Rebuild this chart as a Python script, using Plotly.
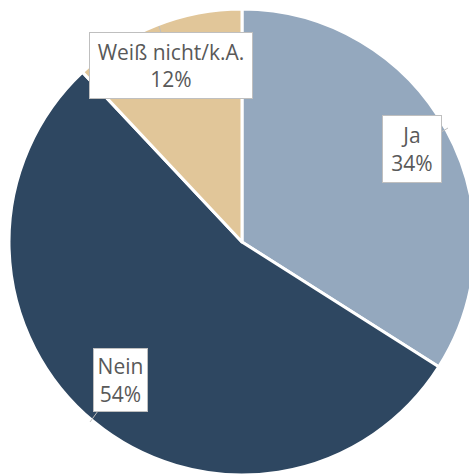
import plotly.graph_objects as go

labels = ["Ja", "Nein", "Weiß nicht/k.A."]
values = [34, 54, 12]
colors = ["#94A8BE", "#2E4761", "#E1C699"]

W, H = 480, 480

fig = go.Figure(go.Pie(
    labels=labels, values=values, sort=False, direction="clockwise", rotation=0,
    marker=dict(colors=colors, line=dict(color="white", width=3)),
    textinfo="none", hoverinfo="label+percent", showlegend=False,
    domain=dict(x=[9 / W, 475 / W], y=[1 - 475 / H, 1 - 9 / H]),
))

# label boxes: (center px x, center px y, tip px x, tip px y, width, height)
boxes = [
    (412, 149, 448, 128, 60, 68),
    (120.5, 380, 90, 422, 55, 64),
    (171, 65.5, 159, 26, 164, 67),
]
total = sum(values)
for lab, val, (cx, cy, tx, ty, bw, bh) in zip(labels, values, boxes):
    fig.add_annotation(
        x=tx / W, y=1 - ty / H, xref="paper", yref="paper",
        ax=cx - tx, ay=cy - ty, axref="pixel", ayref="pixel",
        text=f"{lab}<br>{round(100 * val / total)}%",
        showarrow=True, arrowhead=0, arrowwidth=1, arrowcolor="#BFBFBF",
        bgcolor="white", bordercolor="#BFBFBF", borderwidth=1, borderpad=0,
        width=bw - 2, height=bh - 2,
        font=dict(family="Open Sans", size=21, color="#595959"),
    )

fig.update_layout(
    width=W, height=H, margin=dict(l=0, r=0, t=0, b=0),
    paper_bgcolor="white", plot_bgcolor="white",
)

fig.write_html(
    "out.html",
    config={"displayModeBar": False},
    post_script="document.body.style.margin='0';document.body.style.overflow='hidden';document.documentElement.style.overflow='hidden';",
)
